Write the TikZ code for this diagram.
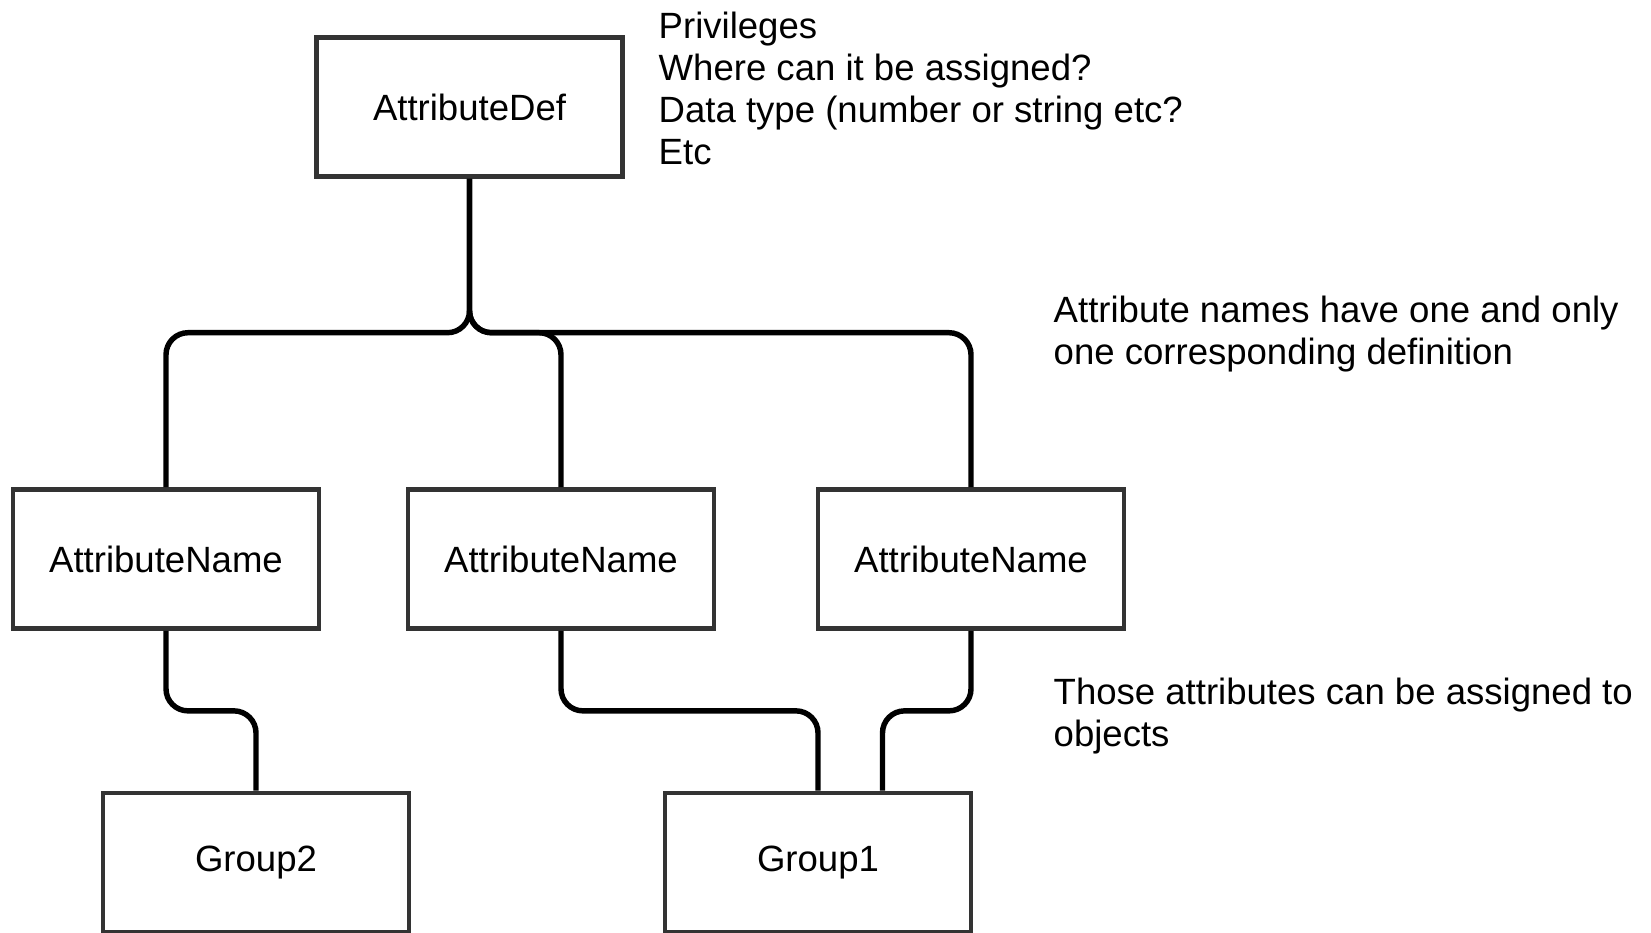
\documentclass[tikz,border=0pt]{standalone}
\usepackage{fontspec}
\setmainfont{Liberation Sans}
\definecolor{boxgray}{HTML}{333333}

\begin{document}
\begin{tikzpicture}[
    box/.style={draw=boxgray,line width=1.35pt,minimum width=3.06cm,minimum height=1.39cm,font=\fontsize{10.4}{12}\selectfont},
    note/.style={anchor=west,align=left,inner sep=0pt,font=\fontsize{10.4}{11.95}\selectfont},
    link/.style={line width=1.55pt,rounded corners=0.22cm}]
    \useasboundingbox (0,0) rectangle (16.51,-9.32);
    \node[box] (def) at (4.695,-1.07){AttributeDef};
    \node[box] (nameA) at (1.66,-5.59){AttributeName};
    \node[box] (nameB) at (5.61,-5.59){AttributeName};
    \node[box] (nameC) at (9.71,-5.59){AttributeName};
    \node[box] (grpB) at (2.56,-8.625){Group2};
    \node[box] (grpA) at (8.18,-8.625){Group1};
    \node[note] (defnote) at (6.58,-0.885){Privileges\\Where can it be assigned?\\Data type (number or string etc?\\Etc};
    \node[note] (namenote) at (10.53,-3.34){Attribute names have one and only\\one corresponding definition};
    \node[note] (grpnote) at (10.53,-7.16){Those attributes can be assigned to\\objects};
    \coordinate (split) at (def.south |- 0,-3.327);
    \draw[link] (def.south) -- (split) -| (nameA.north);
    \draw[link] (def.south) -- (split) -| (nameB.north);
    \draw[link] (def.south) -- (split) -| (nameC.north);
    \draw[link] (nameA.south) -- ++(0,-0.8) -| (grpB.north);
    \draw[link] (nameB.south) -- ++(0,-0.8) -| (grpA.north);
    \draw[link] (nameC.south) -- ++(0,-0.8) -| ([xshift=0.645cm]grpA.north);
\end{tikzpicture}
\end{document}
